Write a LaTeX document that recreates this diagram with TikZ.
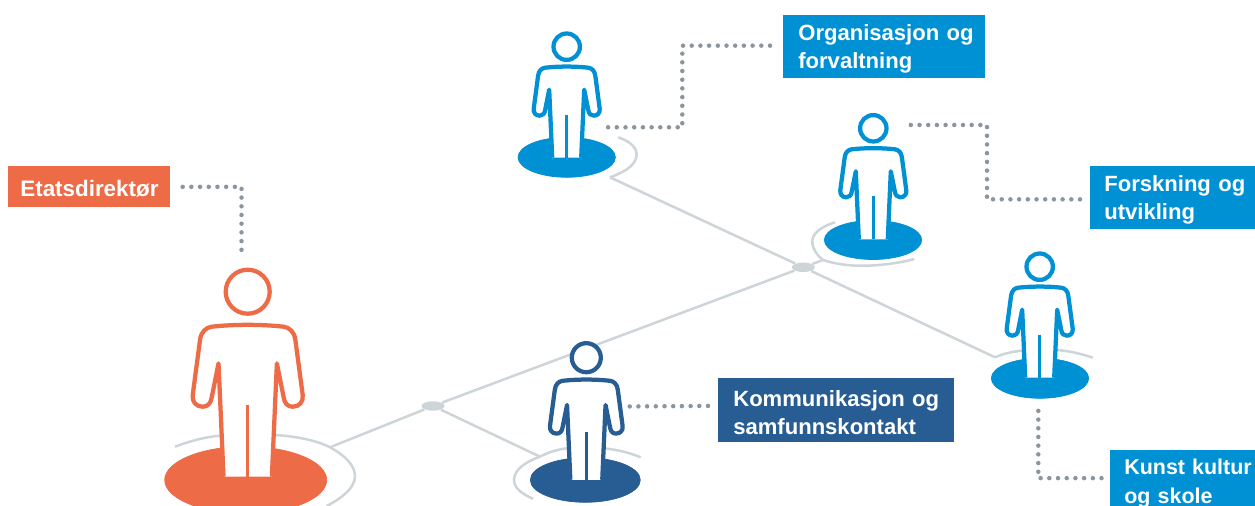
\documentclass[tikz,border=0pt]{standalone}
\usepackage{xcolor}
\usepackage{fontspec}
\setmainfont{Liberation Sans}
\usetikzlibrary{shapes.geometric}
\definecolor{orangefig}{RGB}{237,107,71}
\definecolor{bluefig}{RGB}{0,144,212}
\definecolor{darkfig}{RGB}{39,93,146}
\definecolor{ringgray}{RGB}{205,213,217}
\definecolor{dotgray}{RGB}{138,149,157}
% x y scale colour
\newcommand{\figur}[4]{
	\begin{scope}[shift={(#1,#2)},scale=#3]
		\draw [ color=#4 , fill=white, line width=0.085cm] (0,0) circle (13.2);
		\draw [ color=#4 , fill=white, line width=0.085cm, line join=round] (-14.5,111) -- (-17.5,43) -- (-21.5,63) .. controls (-22,67) and (-24,69) .. (-27,69) .. controls (-31,69) and (-33.5,66) .. (-33,62) -- (-28.6,29) .. controls (-28,24) and (-25,21.5) .. (-21.6,21) .. controls (-8,19.5) and (8,19.5) .. (21.6,21) .. controls (25,21.5) and (28,24) .. (28.6,29) -- (33,62) .. controls (33.5,66) and (31,69) .. (27,69) .. controls (24,69) and (22,67) .. (21.5,63) -- (17.5,43) -- (14.5,111);
		\draw [ color=#4 , line width=0.07cm] (0,68) -- (0,111);
	\end{scope}
}

\begin{document}
\begin{tikzpicture}[x=0.02cm,y=-0.02cm]
	\tikzstyle{every node}=[font=\fontsize{12.55}{16}\selectfont\bfseries, color=white]
	\tikzstyle{labelbox}=[anchor=north west, align=left, inner sep=0pt, minimum height=1.26cm, execute at begin node={\rule{0pt}{11.5pt}}]
	\tikzstyle{ring}=[color=ringgray, line width=0.05cm]
	\tikzstyle{hub}=[ellipse, fill=ringgray, inner sep=0pt, minimum width=0.46cm, minimum height=0.19cm]
	\tikzstyle{leader}=[color=dotgray, line width=0.09cm, line cap=round, dash pattern=on 0pt off 0.174cm]
	\clip (0,0) rectangle (1255,506);

	\node [hub] (hubnord) at (803.3,267.3) {};
	\node [hub] (hubsor) at (433,406) {};
	\coordinate (ringorg) at (610,177.3);
	\coordinate (ringfou) at (823,260);
	\coordinate (ringkunst) at (995,357.3);
	\coordinate (ringdir) at (330,447.3);
	\coordinate (ringkom) at (540,456.7);

	\draw [ring] (hubsor) -- (hubnord);
	\draw [ring] (hubnord) -- (ringorg);
	\draw [ring] (hubnord) -- (ringfou);
	\draw [ring] (hubnord) -- (ringkunst);
	\draw [ring] (hubsor) -- (ringdir);
	\draw [ring] (hubsor) -- (ringkom);
	\draw [ring] (618.3,137.3) .. controls (632,142) and (637,149) .. (636.7,155) .. controls (636,165) and (625,172) .. (ringorg);
	\draw [ring] (835,222.3) .. controls (820,227) and (812,234) .. (812.3,241.7) .. controls (812.5,250) and (818,256) .. (ringfou) .. controls (835,264) and (850,266) .. (863,265.7) .. controls (880,265.7) and (900,263) .. (914.3,259);
	\draw [ring] (ringkunst) .. controls (1005,353) and (1014,351.5) .. (1021.7,350.7) -- (1056.7,350) .. controls (1070,351) and (1082,354) .. (1092.7,357.7);
	\draw [ring] (175,446.7) .. controls (190,441) and (205,437) .. (220,435.7) -- (276.7,435) .. controls (300,437) and (318,441) .. (ringdir) .. controls (346,456) and (355,466) .. (355,476) .. controls (355,488) and (342,498) .. (326.7,506);
	\draw [ring] (640.7,457.3) .. controls (628,452) and (614,449) .. (600,448) -- (570,448) .. controls (558,449) and (549,452) .. (ringkom) .. controls (525,462) and (514,470) .. (514,480) .. controls (514,488) and (522,494) .. (533,498.7);

	\draw [ color=orangefig , fill=orangefig] (245.7,480) ellipse (81 and 33.5);
	\draw [ color=bluefig , fill=bluefig] (566.7,157.3) ellipse (48.7 and 20);
	\draw [ color=bluefig , fill=bluefig] (873,240) ellipse (48.7 and 19.5);
	\draw [ color=bluefig , fill=bluefig] (1040,378.3) ellipse (48.7 and 20);
	\draw [ color=darkfig , fill=darkfig] (585.3,480) ellipse (55 and 22.3);

	\figur{247.7}{291.7}{1.667}{orangefig}
	\figur{566.7}{46.7}{1}{bluefig}
	\figur{873.3}{128.3}{1}{bluefig}
	\figur{1039.7}{266.7}{1}{bluefig}
	\figur{586.3}{357.7}{1.1}{darkfig}

	\node [labelbox, fill=orangefig, minimum width=3.24cm, minimum height=0.82cm, text width=2.76cm, font=\fontsize{12.75}{16}\selectfont\bfseries] (etatbox) at (8,166) {\mbox{Etatsdirektør}};
	\node [labelbox, fill=bluefig, minimum width=4.04cm, text width=3.44cm] (orgbox) at (783,15) {\mbox{Organisasjon og}\\forvaltning};
	\node [labelbox, fill=bluefig, minimum width=3.3cm, text width=2.74cm] (foubox) at (1090,166) {\mbox{Forskning og}\\utvikling};
	\node [labelbox, fill=darkfig, minimum width=4.72cm, minimum height=1.28cm, text width=4.12cm] (kombox) at (718,378) {\mbox{Kommunikasjon og}\\samfunnskontakt};
	\node [labelbox, fill=bluefig, minimum width=3.3cm, text width=2.74cm, font=\fontsize{12.2}{16}\selectfont\bfseries] (kunstbox) at (1110,449.3) {\mbox{Kunst kultur}\\og skole};

	\coordinate (etatend) at (241.5,252);
	\coordinate (orgmid) at (682.3,86);
	\coordinate (orgend) at (606,127.3);
	\coordinate (foumid) at (987,160);
	\coordinate (fouend) at (905,125);
	\coordinate (komend) at (625,406.5);
	\coordinate (kunstend) at (1038.3,407.7);

	\draw [leader, shorten <=0.24cm] (etatbox.east) -| (etatend);
	\draw [leader, shorten <=0.26cm] ([yshift=0.024cm]orgbox.west) -| (orgmid) |- (orgend);
	\draw [leader, shorten <=0.2cm] ([yshift=-0.03cm]foubox.west) -| (foumid) |- (fouend);
	\draw [leader, shorten <=0.2cm] ([yshift=0.09cm]kombox.west) -- (komend);
	\draw [leader, shorten <=0.17cm] ([yshift=0.06cm]kunstbox.west) -| (kunstend);
\end{tikzpicture}
\end{document}
